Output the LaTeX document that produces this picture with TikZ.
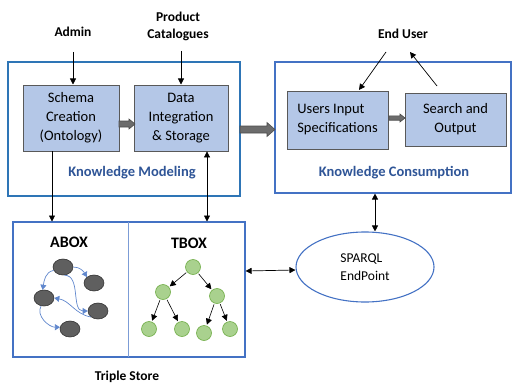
\documentclass[tikz,border=0pt]{standalone}
\usepackage{fontspec}
\setmainfont{Carlito}
\usetikzlibrary{arrows.meta,shapes.geometric,calc}
\definecolor{boxfill}{HTML}{B4C7E7}
\definecolor{frameblue}{HTML}{2E75B6}
\definecolor{midblue}{HTML}{4472C4}
\definecolor{labelblue}{HTML}{2F5597}
\definecolor{nodegray}{HTML}{5F5F5F}
\definecolor{greenfill}{HTML}{A9D18E}
\definecolor{greenline}{HTML}{70AD47}
\tikzset{
  frame/.style={draw=#1, line width=1.1pt},
  procbox/.style={draw=black!65, fill=boxfill, line width=0.8pt, font=\fontsize{14.5}{19}\selectfont},
  bold/.style={font=\fontsize{13.5}{17}\selectfont\bfseries, align=center},
  big/.style={font=\fontsize{16}{19}\selectfont\bfseries},
  bluelbl/.style={font=\fontsize{14.5}{17}\selectfont\bfseries, text=labelblue},
  arr/.style={-{Triangle[length=6pt,width=6pt]}, line width=0.7pt},
  darr/.style={{Triangle[length=6pt,width=6pt]}-{Triangle[length=6pt,width=6pt]}, line width=0.7pt},
  anode/.style={ellipse, draw=black!80, fill=nodegray, line width=0.6pt, minimum width=20pt, minimum height=16pt, inner sep=0pt},
  tnode/.style={circle, draw=greenline, fill=greenfill, line width=0.6pt, minimum size=15pt, inner sep=0pt},
  barr/.style={-{Triangle[length=5pt,width=6pt]}, draw=midblue!85, line width=0.7pt},
  tarr/.style={-{Triangle[length=6pt,width=6pt]}, line width=0.6pt, shorten <=1pt, shorten >=1pt},
}
% horizontal block arrow: #1 start, #2 end, #3 shaft half, #4 head half, #5 head length
\newcommand\blockarrow[5]{%
  \path[draw=black!70, fill=gray!85!black, line width=0.6pt]
    let \p1=(#1), \p2=(#2) in
    (\x1,\y1-#3) -- (\x2-#5,\y1-#3) -- (\x2-#5,\y1-#4) -- (\x2,\y1)
    -- (\x2-#5,\y1+#4) -- (\x2-#5,\y1+#3) -- (\x1,\y1+#3) -- cycle;}
\begin{document}
\begin{tikzpicture}[x=1pt,y=-1pt]
\useasboundingbox (0,0) rectangle (513,385);
% frames
\node[frame=frameblue, minimum width=232pt, minimum height=134pt, inner sep=0pt] (km) at (124,129) {};
\node[frame=midblue, minimum width=236pt, minimum height=131pt, inner sep=0pt] (kc) at (393,127.5) {};
\node[frame=midblue, minimum width=232pt, minimum height=135pt, inner sep=0pt] (ts) at (129,289.5) {};
\draw[midblue!70, line width=0.5pt] (128,222) -- (128,357);
% inner boxes
\node[procbox, align=center, minimum width=96pt, minimum height=66pt, inner sep=1pt] (sc) at (71,118) {Schema\\Creation\\(Ontology)};
\node[procbox, align=center, minimum width=94pt, minimum height=66pt, inner sep=1pt] (di) at (181,118) {Data\\Integration\\\& Storage};
\node[procbox, align=left, minimum width=101pt, minimum height=58pt, inner sep=1pt] (ui) at (337.5,120) {Users Input\\Specifications};
\node[procbox, align=center, minimum width=101pt, minimum height=53pt, inner sep=1pt] (so) at (455.5,119.5) {Search and\\Output};
% labels
\node[bold] (admin) at (73,32) {Admin};
\node[bold] (pc) at (178,26) {Product\\Catalogues};
\node[bold] (eu) at (403,34) {End User};
\node[bluelbl] at (132,173) {Knowledge Modeling};
\node[bluelbl] at (394,173) {Knowledge Consumption};
\node[big] at (69,242) {ABOX};
\node[big] at (189,243) {TBOX};
\node[bold] at (127,377) {Triple Store};
% SPARQL
\node[ellipse, draw=midblue, line width=1.1pt, minimum width=138pt, minimum height=70pt, align=left, font=\fontsize{13.5}{18}\selectfont] (sp) at (365,267) {SPARQL\\EndPoint};
% arrows
\coordinate (adminA) at (73,52); \coordinate (adminB) at (73,84.5);
\draw[arr] (adminA) -- (adminB);
\coordinate (pcA) at (181,51); \coordinate (pcB) at (181,84.5);
\draw[arr] (pcA) -- (pcB);
\coordinate (euA) at (386,52); \coordinate (euB) at (359,90);
\draw[arr] (euA) -- (euB);
\coordinate (soA) at (437,86); \coordinate (soB) at (410,52);
\draw[arr] (soA) -- (soB);
\draw[arr] (sc.south -| 52,0) -- (52,221.5);
\draw[darr] (di.south -| 207,0) -- (207,221.5);
\draw[darr] (kc.south -| 375,0) -- (sp.north -| 375,0);
\draw[darr] (ts.east |- 0,271) -- (sp.west |- 0,270);
% block arrows
\coordinate (b1s) at (119,124); \coordinate (b1e) at (135,124);
\blockarrow{b1s}{b1e}{3}{5}{6}
\coordinate (b2s) at (240,129.5); \coordinate (b2e) at (275,129.5);
\blockarrow{b2s}{b2e}{3.5}{7}{8}
\coordinate (b3s) at (389,118); \coordinate (b3e) at (405,118);
\blockarrow{b3s}{b3e}{2.2}{4}{5}
% ABOX
\node[anode] (a1) at (63,267) {};
\node[anode] (a2) at (94,283) {};
\node[anode] (a3) at (44,298) {};
\node[anode] (a4) at (98,311) {};
\node[anode] (a5) at (70,329) {};
\draw[barr] (a1.east) to[out=0,in=120] (a2.140);
\draw[barr] (a1.200) to[out=190,in=80] (a3.100);
\draw[barr] (a1.-80) to[out=0,in=180] (a4.180);
\draw[barr] (a4.220) to[out=170,in=-10] (a3.east);
\draw[barr] (a3.250) to[out=240,in=180] (a5.170);
% TBOX
\node[tnode] (t0) at (193,267) {};
\node[tnode] (t1) at (163,292) {};
\node[tnode] (t2) at (217,296) {};
\node[tnode] (t3) at (149,329) {};
\node[tnode] (t4) at (182,329) {};
\node[tnode] (t5) at (204,333) {};
\node[tnode] (t6) at (230,329) {};
\draw[tarr] (t0) -- (t1);
\draw[tarr] (t0) -- (t2);
\draw[tarr] (t1) -- (t3);
\draw[tarr] (t1) -- (t4);
\draw[tarr] (t2) -- (t5);
\draw[tarr] (t2) -- (t6);
\end{tikzpicture}
\end{document}
